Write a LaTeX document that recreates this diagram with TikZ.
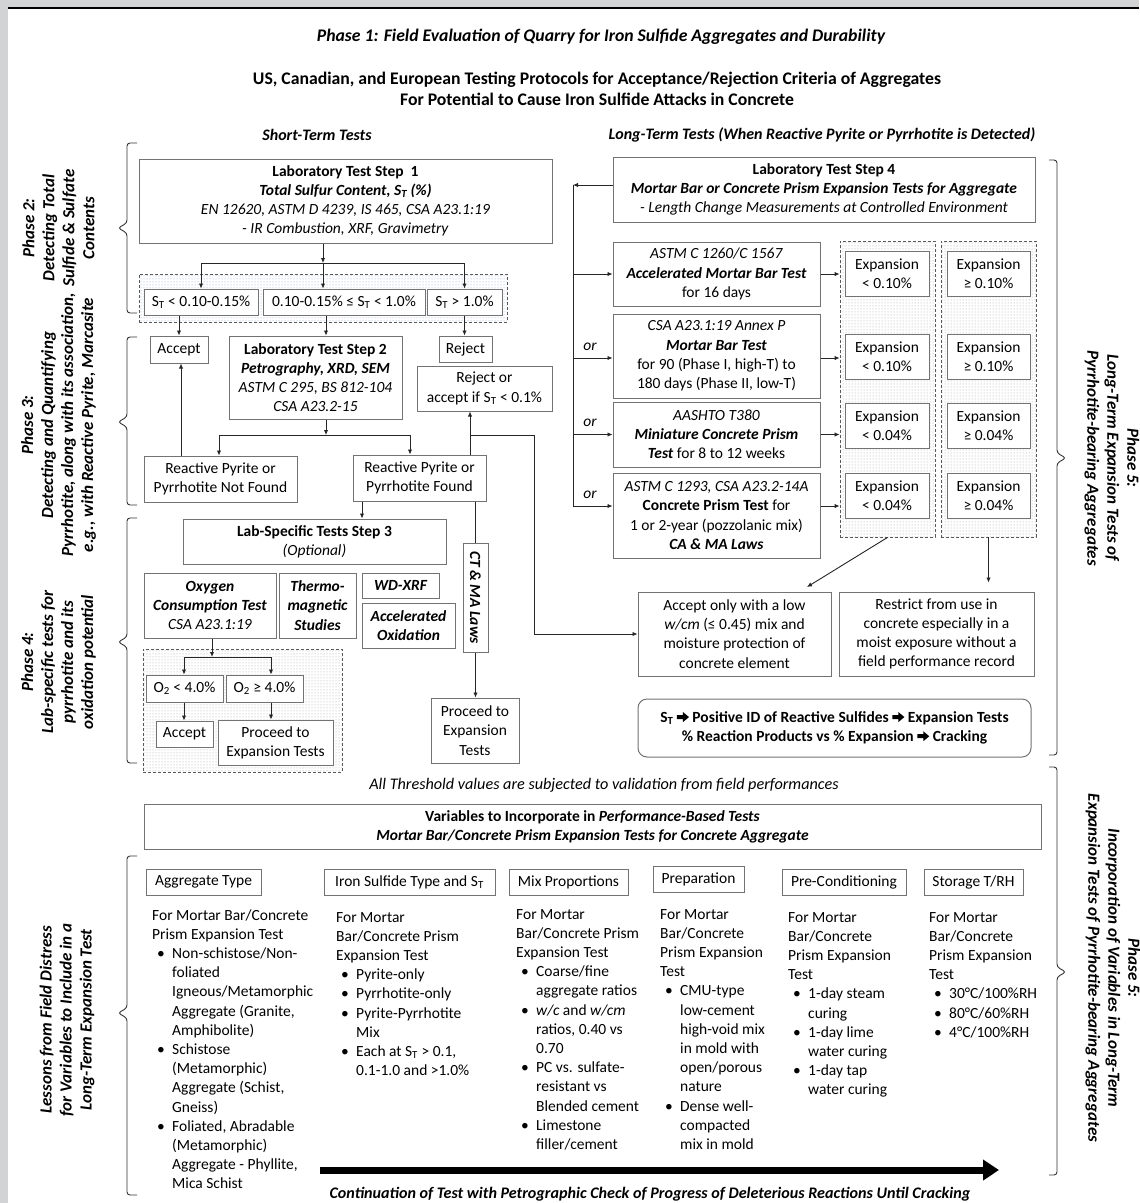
\documentclass[tikz,border=0pt]{standalone}
\usepackage{graphicx}
\usepackage{fontspec}
\setmainfont{Carlito}
\usetikzlibrary{arrows.meta,patterns,calc}
\definecolor{bggray}{RGB}{210,211,213}
\definecolor{stdots}{RGB}{140,165,210}
\newcommand\fs{\fontsize{15.5}{19.2}\selectfont}
\newcommand\fl{\fontsize{17}{20}\selectfont\bfseries\itshape}
\newcommand\ST{S\textsubscript{T}}
\newcommand\bu[1]{\hspace*{5pt}\makebox[15pt][l]{\textbullet}#1}
\newcommand\ii[1]{\hspace*{20pt}#1}
\newcommand\rarr{\tikz[x=1pt,y=1pt,baseline=-0.5pt,sharp corners]\fill[black] (0,3) -- (6,3) -- (6,0) -- (12,5) -- (6,10) -- (6,7) -- (0,7) -- cycle;}
\tikzset{
  bx/.style={draw=black!55, line width=1pt, fill=white, inner sep=0pt, align=center, font=\fs},
  wh/.style 2 args={minimum width=#1pt, minimum height=#2pt},
  grp/.style={draw=black!65, dash pattern=on 3pt off 2pt, line width=0.9pt, pattern=dots, pattern color=black!35, inner sep=0pt},
  arr/.style={draw=black!85, line width=0.9pt, -{Latex[length=5pt,width=4.5pt]}},
  ln/.style={draw=black!85, line width=0.9pt},
  brc/.style={draw=black!80, line width=0.9pt, rounded corners=3pt},
  lbl/.style={font=\fl, align=center, inner sep=0pt},
  col/.style={anchor=base west, inner sep=0pt},
}
\newcommand\lbrc[3]{\draw[brc] (137,#1) -- (127,#1) -- (127,#2-5) -- (118,#2) -- (127,#2+5) -- (127,#3) -- (137,#3);}
\newcommand\rbrc[3]{\draw[brc] (1049,#1) -- (1057,#1) -- (1057,#2-5) -- (1066,#2) -- (1057,#2+5) -- (1057,#3) -- (1049,#3);}
\begin{document}
\begin{tikzpicture}[x=1pt,y=-1pt]
% background
\fill[bggray] (0,0) rectangle (1139,1203);
\fill[white] (8,8) rectangle (1139,1203);
\draw[line width=1.5pt] (8,8) -- (1139,8);
\useasboundingbox (0,0) rectangle (1139,1203);

% titles
\node[font=\fontsize{17.7}{19}\selectfont\bfseries\itshape] (t1) at (601,37) {Phase 1: Field Evaluation of Quarry for Iron Sulfide Aggregates and Durability};
\node[font=\fontsize{17.7}{21.5}\selectfont\bfseries, align=center] (t2) at (597,89) {US, Canadian, and European Testing Protocols for Acceptance/Rejection Criteria of Aggregates\\For Potential to Cause Iron Sulfide Attacks in Concrete};
\node[font=\fontsize{16}{19}\selectfont\bfseries\itshape] (sh) at (317,135) {Short-Term Tests};
\node[font=\fontsize{16}{19}\selectfont\bfseries\itshape] (lt) at (822,135) {Long-Term Tests (When Reactive Pyrite or Pyrrhotite is Detected)};

% phase labels left
\node[lbl, rotate=90] (p2) at (58.5,228) {Phase 2:\\Detecting Total\\Sulfide \& Sulfate\\Contents};
\node[lbl, rotate=90] (p3) at (58.5,425) {Phase 3:\\Detecting and Quantifying\\Pyrrhotite, along with its association,\\e.g., with Reactive Pyrite, Marcasite};
\node[lbl, rotate=90] (p4) at (58.5,662) {Phase 4:\\Lab-specific tests for\\pyrrhotite and its\\oxidation potential};
\node[lbl, rotate=90] (p6) at (67,1020) {Lessons from Field Distress\\for Variables to Include in a\\Long-Term Expansion Test};
\lbrc{143}{228}{313}
\lbrc{337}{422}{505}
\lbrc{518}{642}{763}
\lbrc{856}{1013}{1195}

% phase labels right
\node[lbl, rotate=-90] (p5a) at (1112,458) {Phase 5:\\Long-Term Expansion Tests of\\Pyrrhotite-bearing Aggregates};
\node[lbl, rotate=-90] (p5b) at (1113,968) {Phase 5:\\Incorporation of Variables in Long-Term\\Expansion Tests of Pyrrhotite-bearing Aggregates};
\rbrc{160}{458}{755}
\rbrc{767}{972}{1175}

% groups
\node[grp, pattern color=stdots, wh={368}{48}] (stg) at (323,298) {};
\node[grp, wh={199}{123}] (o2g) at (242.5,710.5) {};
\node[grp, wh={95}{296}] (col1) at (887.5,389) {};
\node[grp, wh={95}{296}] (col2) at (988.5,389) {};

% short-term boxes
\node[bx, wh={413}{84}] (step1) at (345.5,201) {\textbf{Laboratory Test Step\ \ 1}\\\textbf{\textit{Total Sulfur Content, \ST\ (\%)}}\\\textit{EN 12620, ASTM D 4239, IS 465, CSA A23.1:19}\\\textit{- IR Combustion, XRF, Gravimetry}};
\node[bx, wh={114}{26}] (st1) at (201,302) {\ST\ < 0.10-0.15\%};
\node[bx, wh={162}{26}] (st2) at (344,302) {0.10-0.15\% ≤ \ST\ < 1.0\%};
\node[bx, wh={75}{26}] (st3) at (464.5,302) {\ST\ > 1.0\%};
\node[bx, wh={58}{27}] (accept1) at (179,349.5) {Accept};
\node[bx, wh={173}{83}] (step2) at (315.5,377.5) {\textbf{Laboratory Test Step 2}\\\textbf{\textit{Petrography, XRD, SEM}}\\\textit{ASTM C 295, BS 812-104}\\\textit{CSA A23.2-15}};
\node[bx, wh={53}{26}] (reject) at (465.5,349) {Reject};
\node[bx, wh={135}{45}] (rejacc) at (484.5,388.5) {Reject or\\accept if \ST\ < 0.1\%};
\node[bx, wh={153}{46}] (notfound) at (220.5,479) {Reactive Pyrite or\\Pyrrhotite Not Found};
\node[bx, wh={133}{46}] (found) at (419.5,478) {Reactive Pyrite or\\Pyrrhotite Found};
\node[bx, wh={263}{45}] (step3) at (314.5,541.5) {\textbf{Lab-Specific Tests Step 3}\\\textit{(Optional)}};
\node[bx, wh={132}{65}] (oxygen) at (210,605.5) {\textbf{\textit{Oxygen}}\\\textbf{\textit{Consumption Test}}\\\textit{CSA A23.1:19}};
\node[bx, wh={77}{65}, font=\fs\bfseries\itshape] (thermo) at (317.5,605.5) {Thermo-\\magnetic\\Studies};
\node[bx, wh={77}{25}, font=\fs\bfseries\itshape] (wdxrf) at (400.5,585.5) {WD-XRF};
\node[bx, wh={93}{45}, font=\fs\bfseries\itshape] (accox) at (408.5,625.5) {Accelerated\\Oxidation};
\node[bx, wh={25}{109}] (ctma) at (475.5,597.5) {\rotatebox{-90}{\textbf{\textit{CT \& MA Laws}}}};
\node[bx, wh={88}{65}] (proceed2) at (475,730.5) {Proceed to\\Expansion\\Tests};
\node[bx, wh={77}{27}] (o2a) at (184.5,688.5) {O\textsubscript{2} < 4.0\%};
\node[bx, wh={77}{27}] (o2b) at (264.5,688.5) {O\textsubscript{2} ≥ 4.0\%};
\node[bx, wh={57}{26}] (accept2) at (184.5,734) {Accept};
\node[bx, wh={115}{45}] (proceed1) at (275.5,742.5) {Proceed to\\Expansion Tests};

% long-term boxes
\node[bx, wh={422}{65}] (step4) at (824,189.5) {\textbf{Laboratory Test Step 4}\\\textbf{\textit{Mortar Bar or Concrete Prism Expansion Tests for Aggregate}}\\\textit{- Length Change Measurements at Controlled Environment}};
\node[bx, wh={207}{64}] (testA) at (716.5,274) {\textit{ASTM C 1260/C 1567}\\\textbf{\textit{Accelerated Mortar Bar Test}}\\for 16 days};
\node[bx, wh={207}{84}] (testB) at (716.5,356) {\textit{CSA A23.1:19 Annex P}\\\textbf{\textit{Mortar Bar Test}}\\for 90 (Phase I, high-T) to\\180 days (Phase II, low-T)};
\node[bx, wh={207}{65}] (testC) at (716.5,434.5) {\textit{AASHTO T380}\\\textbf{\textit{Miniature Concrete Prism}}\\\textbf{\textit{Test}} for 8 to 12 weeks};
\node[bx, wh={207}{85}] (testD) at (716.5,515.5) {\textit{ASTM C 1293, CSA A23.2-14A}\\\textbf{Concrete Prism Test} for\\1 or 2-year (pozzolanic mix)\\\textbf{\textit{CA \& MA Laws}}};
\node[bx, wh={84}{45}] (e1a) at (887,273.5) {Expansion\\< 0.10\%};
\node[bx, wh={83}{45}] (e1b) at (988.5,273.5) {Expansion\\≥ 0.10\%};
\node[bx, wh={84}{45}] (e2a) at (887,356.5) {Expansion\\< 0.10\%};
\node[bx, wh={83}{45}] (e2b) at (988.5,356.5) {Expansion\\≥ 0.10\%};
\node[bx, wh={84}{45}] (e3a) at (887,426) {Expansion\\< 0.04\%};
\node[bx, wh={83}{45}] (e3b) at (988.5,426) {Expansion\\≥ 0.04\%};
\node[bx, wh={84}{45}] (e4a) at (887,495.5) {Expansion\\< 0.04\%};
\node[bx, wh={83}{45}] (e4b) at (988.5,495.5) {Expansion\\≥ 0.04\%};
\node[bx, wh={193}{84}] (acceptonly) at (734.5,634) {Accept only with a low\\\textit{w/cm} (≤ 0.45) mix and\\moisture protection of\\concrete element};
\node[bx, wh={195}{84}] (restrict) at (936.5,634) {Restrict from use in\\concrete especially in a\\moist exposure without a\\field performance record};
\node[bx, wh={393}{58}, rounded corners=9pt, font=\fs\bfseries] (summary) at (834.5,728) {\ST\ \rarr\ Positive ID of Reactive Sulfides \rarr\ Expansion Tests\\\% Reaction Products vs \% Expansion \rarr\ Cracking};
\node[font=\fontsize{16.2}{19}\selectfont\itshape] (valid) at (604,785) {All Threshold values are subjected to validation from field performances};

\node[font=\fs\itshape] (or1) at (590,347) {or};
\node[font=\fs\itshape] (or2) at (590,423) {or};
\node[font=\fs\itshape] (or3) at (590,495) {or};

% short-term connectors
\coordinate (b1) at (323,263);
\draw[arr] (b1 |- step1.south) -- (b1);
\draw[ln] (b1 -| st1.north) -- (b1 -| st3.north);
\draw[arr] (b1 -| st1.north) -- (st1.north);
\draw[arr] (b1) -- (b1 |- st2.north);
\draw[arr] (b1 -| st3.north) -- (st3.north);
\coordinate (c2) at (326,0);
\draw[arr] (st1.south -| accept1.north) -- (accept1.north);
\draw[arr] (st2.south -| c2) -- (step2.north -| c2);
\draw[arr] (st3.south) -- (st3.south |- reject.north);
\coordinate (b2) at (326,435);
\draw[arr] (b2 |- step2.south) -- (b2);
\coordinate (nfx) at (219,435);
\coordinate (fx) at (410,435);
\draw[ln] (nfx) -- (fx);
\draw[arr] (nfx) -- (nfx |- notfound.north);
\draw[arr] (fx) -- (fx |- found.north);
\coordinate (ax) at (181,0);
\draw[arr] (notfound.north -| ax) -- (accept1.south -| ax);
\coordinate (rx) at (470,435);
\draw[arr] (found.north -| rx) -- (rejacc.south -| rx);
\coordinate (jx) at (534,435);
\draw[arr] (rx) -- (jx) -- (jx |- acceptonly.west) -- (acceptonly.west);
\coordinate (s3x) at (362,0);
\draw[arr] (found.south -| s3x) -- (step3.north -| s3x);
\draw[ln] (found.south -| ctma.north) -- (ctma.north);
\draw[arr] (ctma.south) -- (ctma.south |- proceed2.north);
\coordinate (b3) at (212,657);
\draw[arr] (b3 |- oxygen.south) -- (b3);
\coordinate (o2ax) at (184,657);
\coordinate (o2bx) at (271,657);
\draw[ln] (o2ax) -- (o2bx);
\draw[arr] (o2ax) -- (o2ax |- o2a.north);
\draw[arr] (o2bx) -- (o2bx |- o2b.north);
\draw[arr] (o2a.south -| o2ax) -- (accept2.north -| o2ax);
\draw[arr] (o2b.south -| o2bx) -- (proceed1.north -| o2bx);

% long-term connectors
\coordinate (lv) at (573,185);
\coordinate (lvb) at (573,506);
\coordinate (yB) at (0,358);
\draw[arr] (lv -| step4.west) -- (lv);
\draw[ln] (lv) -- (lvb);
\draw[arr] (lv |- testA.west) -- (testA.west);
\draw[arr] (lv |- yB) -- (testB.west |- yB);
\draw[arr] (lv |- testC.west) -- (testC.west);
\draw[arr] (lvb) -- (lvb -| testD.west);
\draw[arr] (testA.east) -- (testA.east -| col1.west);
\draw[arr] (testB.east |- yB) -- (col1.west |- yB);
\draw[arr] (testC.east) -- (testC.east -| col1.west);
\draw[arr] (lvb -| testD.east) -- (lvb -| col1.west);
\coordinate (dt) at (807,587);
\draw[arr] (col1.south) -- (dt);
\draw[arr, shorten >=9pt] (col2.south) -- (col2.south |- restrict.north);

% bottom section
\node[bx, wh={897}{45}] (vars) at (592.5,826.5) {\textbf{Variables to Incorporate in \textit{Performance-Based Tests}}\\\textbf{\textit{Mortar Bar/Concrete Prism Expansion Tests for Concrete Aggregate}}};
\node[bx, wh={115}{26}] (aggtype) at (203.5,882) {Aggregate Type};
\node[bx, wh={171}{26}] (ironsulf) at (409.5,882) {Iron Sulfide Type and \ST};
\node[bx, wh={119}{26}] (mixprop) at (568.5,882) {Mix Proportions};
\node[bx, wh={91}{26}] (prep) at (698.5,879.5) {Preparation};
\node[bx, wh={124}{26}] (precond) at (844,882) {Pre-Conditioning};
\node[bx, wh={99}{26}] (storage) at (973.5,882) {Storage T/RH};

\node[col] (cag) at (152,920) {\parbox[t]{170pt}{\fs\raggedright For Mortar Bar/Concrete\\Prism Expansion Test\\\bu{Non-schistose/Non-}\\\ii{foliated}\\\ii{Igneous/Metamorphic}\\\ii{Aggregate (Granite,}\\\ii{Amphibolite)}\\\bu{Schistose}\\\ii{(Metamorphic)}\\\ii{Aggregate (Schist,}\\\ii{Gneiss)}\\\bu{Foliated, Abradable}\\\ii{(Metamorphic)}\\\ii{Aggregate - Phyllite,}\\\ii{Mica Schist}}};
\node[col] (cir) at (336,922) {\parbox[t]{170pt}{\fs\raggedright For Mortar\\Bar/Concrete Prism\\Expansion Test\\\bu{Pyrite-only}\\\bu{Pyrrhotite-only}\\\bu{Pyrite-Pyrrhotite}\\\ii{Mix}\\\bu{Each at \ST\ > 0.1,}\\\ii{0.1-1.0 and >1.0\%}}};
\node[col] (cmx) at (516,919) {\parbox[t]{170pt}{\fs\raggedright For Mortar\\Bar/Concrete Prism\\Expansion Test\\\bu{Coarse/fine}\\\ii{aggregate ratios}\\\bu{\textit{w/c} and \textit{w/cm}}\\\ii{ratios, 0.40 vs}\\\ii{0.70}\\\bu{PC vs. sulfate-}\\\ii{resistant vs}\\\ii{Blended cement}\\\bu{Limestone}\\\ii{filler/cement}}};
\node[col] (cpr) at (660,919) {\parbox[t]{170pt}{\fs\raggedright For Mortar\\Bar/Concrete\\Prism Expansion\\Test\\\bu{CMU-type}\\\ii{low-cement}\\\ii{high-void mix}\\\ii{in mold with}\\\ii{open/porous}\\\ii{nature}\\\bu{Dense well-}\\\ii{compacted}\\\ii{mix in mold}}};
\node[col] (cpc) at (788,922) {\parbox[t]{170pt}{\fs\raggedright For Mortar\\Bar/Concrete\\Prism Expansion\\Test\\\bu{1-day steam}\\\ii{curing}\\\bu{1-day lime}\\\ii{water curing}\\\bu{1-day tap}\\\ii{water curing}}};
\node[col] (cst) at (929,922) {\parbox[t]{170pt}{\fs\raggedright For Mortar\\Bar/Concrete\\Prism Expansion\\Test\\\bu{30°C/100\%RH}\\\bu{80°C/60\%RH}\\\bu{4°C/100\%RH}}};

\coordinate (ta) at (320,1170);
\coordinate (tb) at (999,1170);
\draw[line width=7pt, -{Triangle[length=16pt,width=20pt]}] (ta) -- (tb);
\node[font=\fontsize{16.1}{19}\selectfont\bfseries\itshape] (cont) at (650,1194) {Continuation of Test with Petrographic Check of Progress of Deleterious Reactions Until Cracking};
\end{tikzpicture}
\end{document}
